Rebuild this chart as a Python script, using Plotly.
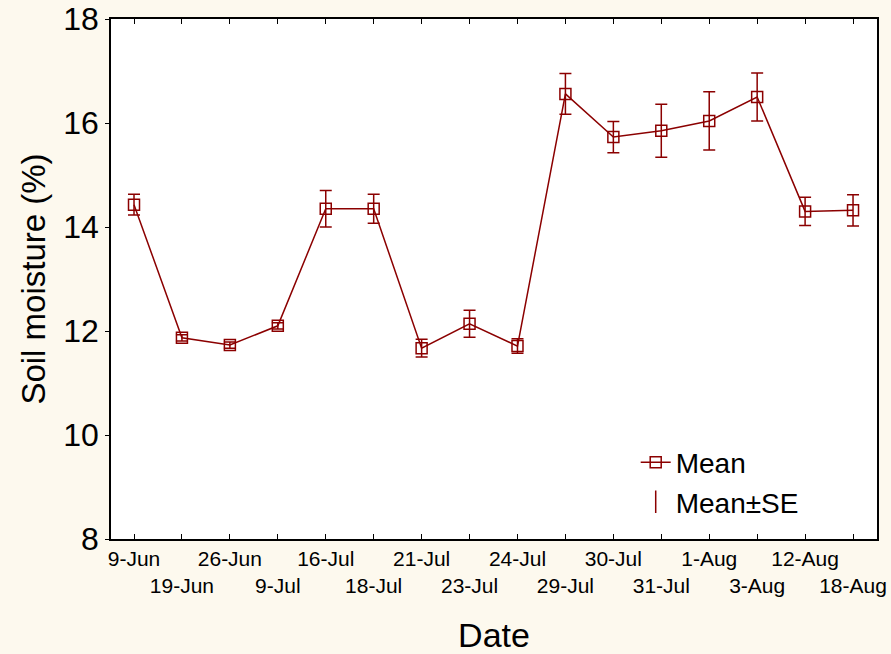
import plotly.graph_objects as go

dates = ["9-Jun", "19-Jun", "26-Jun", "9-Jul", "16-Jul", "18-Jul", "21-Jul", "23-Jul",
         "24-Jul", "29-Jul", "30-Jul", "31-Jul", "1-Aug", "3-Aug", "12-Aug", "18-Aug"]
mean = [14.43, 11.87, 11.73, 12.1, 14.35, 14.35, 11.67, 12.14,
        11.71, 16.56, 15.73, 15.85, 16.04, 16.5, 14.3, 14.32]
se = [0.2, 0.06, 0.06, 0.06, 0.35, 0.28, 0.17, 0.26,
      0.14, 0.39, 0.3, 0.51, 0.56, 0.46, 0.27, 0.3]
y_ticks = [8, 10, 12, 14, 16, 18]

color = "#8B0000"
ticktext = [d if i % 2 == 0 else "<br>" + d for i, d in enumerate(dates)]

fig = go.Figure()
fig.add_trace(go.Scatter(
    x=dates, y=mean, mode="lines+markers", name="Mean",
    line=dict(color=color, width=1.5),
    marker=dict(symbol="square-open", size=11, color=color, line=dict(width=1.5)),
    error_y=dict(type="data", array=se, visible=True, color=color, thickness=1.5, width=6),
))
# legend-only entry for the SE whiskers
fig.add_trace(go.Scatter(
    x=[dates[0]], y=[None], mode="markers", name="Mean±SE",
    marker=dict(symbol="line-ns-open", size=26, color=color, line=dict(width=1.5, color=color)),
))

fig.update_layout(
    width=891, height=654,
    margin=dict(l=111, r=14, t=19, b=115, autoexpand=False),
    paper_bgcolor="#FDF9EE",
    plot_bgcolor="white",
    font=dict(family="Liberation Sans, Arial, sans-serif", color="black"),
    showlegend=True,
    legend=dict(x=0.685, y=0.195, xanchor="left", yanchor="top",
                bgcolor="rgba(0,0,0,0)", font=dict(size=28),
                itemsizing="trace", tracegroupgap=0),
)
fig.update_xaxes(
    type="category", range=[-0.48, 15.5], automargin=False,
    tickmode="array", tickvals=dates, ticktext=ticktext, tickangle=0,
    ticks="inside", ticklen=5, tickwidth=1, tickcolor="black",
    showline=True, linecolor="black", linewidth=1.5, mirror="ticks",
    showgrid=False, zeroline=False,
    tickfont=dict(size=21),
    title=dict(text="Date", font=dict(size=34), standoff=28),
)
fig.update_yaxes(
    range=[8, 18], tickmode="array", tickvals=y_ticks, automargin=False,
    ticks="outside", ticklen=4, tickwidth=1, tickcolor="black",
    showline=True, linecolor="black", linewidth=1.5, mirror=True,
    showgrid=False, zeroline=False,
    tickfont=dict(size=32),
    title=dict(text="Soil moisture (%)", font=dict(size=33), standoff=8),
)
fig.write_html("out.html")
